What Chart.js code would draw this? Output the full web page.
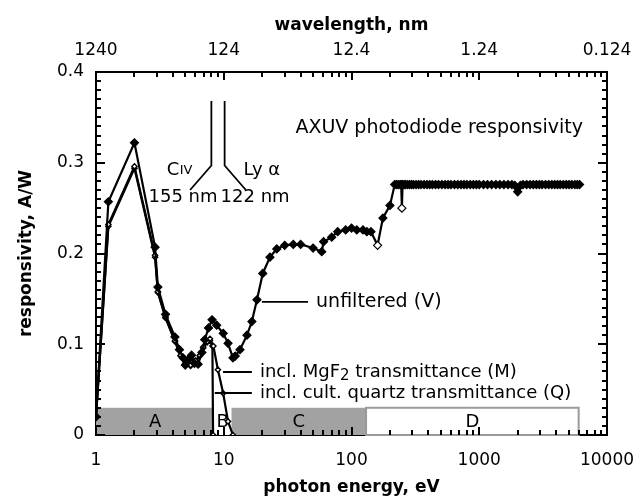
<!DOCTYPE html>
<html lang="en">
<head>
<meta charset="UTF-8">
<title>AXUV photodiode responsivity</title>
<script src="https://cdn.jsdelivr.net/npm/chart.js"></script>
<style>
  body { margin: 0; background: #fff; }
</style>
</head>
<body>
<canvas id="chart" width="633" height="498"></canvas>
<script>
// photon energy (eV) and responsivity (A/W)
const energyV = [1.0, 1.25, 2.0, 2.9, 3.05, 3.5, 4.15, 4.5, 4.8, 5.0, 5.3, 5.6, 5.9, 6.3, 6.75, 7.1, 7.6, 8.1, 8.8, 9.9,
  10.8, 11.8, 12.3, 13.4, 15.2, 16.6, 18.2, 20.2, 23.0, 26.0, 30.0, 35.0, 40.0, 50.0, 58.5, 60.5, 70.0, 78.0, 90.0, 100,
  110, 123, 132, 142, 160, 176, 200, 218, 225, 232, 240, 245, 248, 251, 258, 265, 275, 285, 295, 305,
  320, 335, 350, 370, 390, 410, 430, 455, 480, 510, 540, 570, 600, 640, 680, 720, 760, 800, 850, 900,
  950, 1000, 1080, 1160, 1250, 1350, 1450, 1560, 1680, 1800, 1900, 2000, 2100, 2200, 2350, 2500, 2650, 2800, 2950, 3100,
  3300, 3500, 3700, 3900, 4100, 4300, 4550, 4800, 5050, 5300, 5600, 5850, 6100];
const respV = [0.020, 0.257, 0.322, 0.207, 0.163, 0.133, 0.108, 0.094, 0.085, 0.077, 0.083, 0.088, 0.079, 0.078, 0.091, 0.105, 0.118, 0.127, 0.121, 0.112,
  0.101, 0.085, 0.087, 0.094, 0.110, 0.125, 0.149, 0.178, 0.196, 0.205, 0.209, 0.210, 0.210, 0.206, 0.202, 0.213, 0.218, 0.224, 0.226, 0.228,
  0.226, 0.226, 0.224, 0.224, 0.209, 0.239, 0.253, 0.276, 0.276, 0.276, 0.276, 0.276, 0.250, 0.276, 0.276, 0.276, 0.276, 0.276, 0.276, 0.276,
  0.276, 0.276, 0.276, 0.276, 0.276, 0.276, 0.276, 0.276, 0.276, 0.276, 0.276, 0.276, 0.276, 0.276, 0.276, 0.276, 0.276, 0.276, 0.276, 0.276,
  0.276, 0.276, 0.276, 0.276, 0.276, 0.276, 0.276, 0.276, 0.276, 0.276, 0.275, 0.268, 0.275, 0.276, 0.276, 0.276, 0.276, 0.276, 0.276, 0.276,
  0.276, 0.276, 0.276, 0.276, 0.276, 0.276, 0.276, 0.276, 0.276, 0.276, 0.276, 0.276, 0.276];
const openPointsV = [160, 248];

const energyM = [1.0, 1.25, 2.0, 2.9, 3.05, 3.5, 4.15, 4.6, 5.0, 5.5, 6.0, 6.5, 6.9, 7.4, 7.8, 8.3, 9.0, 9.9, 10.8, 11.8];
const respM = [0.020, 0.232, 0.296, 0.198, 0.158, 0.130, 0.104, 0.088, 0.079, 0.077, 0.082, 0.088, 0.097, 0.103, 0.106, 0.098, 0.072, 0.046, 0.015, 0.0];

const energyQ = [1.0, 1.25, 2.0, 2.9, 3.05, 3.5, 4.15, 4.6, 5.0, 5.5, 6.0, 6.5, 6.9, 7.4, 7.8, 8.15, 8.25];
const respQ = [0.020, 0.230, 0.294, 0.196, 0.157, 0.129, 0.103, 0.087, 0.078, 0.076, 0.081, 0.087, 0.096, 0.102, 0.104, 0.098, 0.0];

const energyTicks = [1, 10, 100, 1000, 10000];
const wavelengthTicks = ['1240', '124', '12.4', '1.24', '0.124'];
const respTicks = [0, 0.1, 0.2, 0.3, 0.4];

// spectral ranges A-D along the bottom
const bandEdges = [1, 8.4, 11.5, 130, 6000];
const bandNames = ['A', 'B', 'C', 'D'];
const bandHeight = 0.03;

const FONT = "'DejaVu Sans', sans-serif";
const tickFont = { family: FONT, size: 17 };
const titleFont = { family: FONT, size: 17, weight: 'bold', lineHeight: 1 };

function toPoints(xs, ys) {
  return xs.map((x, i) => ({ x: x, y: ys[i] }));
}

function drawText(ctx, x, y, str, size, align) {
  ctx.font = size + 'px ' + FONT;
  ctx.textAlign = align || 'left';
  ctx.textBaseline = 'middle';
  ctx.fillText(str, x, y);
}

// keep the frame where the reference has it, labels may overhang
function noPad(s) {
  s.paddingLeft = 0;
  s.paddingRight = 0;
}

const decorations = {
  id: 'decorations',
  beforeDatasetsDraw(chart) {
    const { ctx, scales: { x, y } } = chart;
    const fills = ['#a2a2a2', '#ffffff', '#a2a2a2', '#ffffff'];
    const y0 = y.getPixelForValue(0);
    const y1 = y.getPixelForValue(bandHeight);
    ctx.save();
    for (let i = 0; i < bandNames.length; i++) {
      const x0 = x.getPixelForValue(bandEdges[i]);
      const x1 = x.getPixelForValue(bandEdges[i + 1]);
      ctx.fillStyle = fills[i];
      ctx.fillRect(x0, y1, x1 - x0, y0 - y1);
      if (i === 3) {
        ctx.strokeStyle = '#9a9a9a';
        ctx.lineWidth = 2;
        ctx.strokeRect(x0, y1, x1 - x0, y0 - y1);
      }
      ctx.fillStyle = '#000';
      const xm = x.getPixelForValue(Math.sqrt(bandEdges[i] * bandEdges[i + 1]));
      drawText(ctx, xm, (y0 + y1) / 2 + 1, bandNames[i], 18, 'center');
    }
    ctx.restore();
  },
  afterDraw(chart) {
    const { ctx, chartArea: a, scales: { x, y } } = chart;
    ctx.save();
    ctx.strokeStyle = '#000';
    ctx.fillStyle = '#000';
    ctx.lineWidth = 2;

    // inward tick marks on all four sides
    ctx.beginPath();
    for (let d = 1; d < 10000; d *= 10) {
      for (let m = 1; m <= 9; m++) {
        const px = Math.round(x.getPixelForValue(d * m));
        const len = m === 1 ? 8 : 5;
        ctx.moveTo(px, a.bottom); ctx.lineTo(px, a.bottom - len);
        ctx.moveTo(px, a.top); ctx.lineTo(px, a.top + len);
      }
    }
    for (let i = 0; i <= 40; i++) {
      const py = Math.round(y.getPixelForValue(i / 100));
      const len = i % 10 === 0 ? 9 : 5;
      ctx.moveTo(a.left, py); ctx.lineTo(a.left + len, py);
      ctx.moveTo(a.right, py); ctx.lineTo(a.right - len, py);
    }
    ctx.stroke();

    // C IV and Ly alpha markers
    ctx.lineWidth = 1.8;
    ctx.beginPath();
    const civ = x.getPixelForValue(8.0), lya = x.getPixelForValue(10.16);
    const yTop = y.getPixelForValue(0.368), yKnee = y.getPixelForValue(0.297), yEnd = y.getPixelForValue(0.27);
    ctx.moveTo(civ, yTop); ctx.lineTo(civ, yKnee); ctx.lineTo(x.getPixelForValue(5.45), yEnd);
    ctx.moveTo(lya, yTop); ctx.lineTo(lya, yKnee); ctx.lineTo(x.getPixelForValue(14.9), yEnd);
    ctx.stroke();

    const yRow1 = y.getPixelForValue(0.292), yRow2 = y.getPixelForValue(0.262);
    const cx = x.getPixelForValue(4.6);
    drawText(ctx, cx - 14, yRow1, 'C', 18, 'left');
    drawText(ctx, cx - 1, yRow1 + 1, 'IV', 13, 'left');
    drawText(ctx, x.getPixelForValue(4.8), yRow2, '155 nm', 18, 'center');
    drawText(ctx, x.getPixelForValue(19.9), yRow1, 'Ly \u03b1', 18, 'center');
    drawText(ctx, x.getPixelForValue(17.6), yRow2, '122 nm', 18, 'center');

    drawText(ctx, x.getPixelForValue(6490), y.getPixelForValue(0.338), 'AXUV photodiode responsivity', 19, 'right');

    // curve labels with leader lines
    ctx.lineWidth = 1.8;
    ctx.beginPath();
    const yV = y.getPixelForValue(0.1466), yM = y.getPixelForValue(0.0694), yQ = y.getPixelForValue(0.0463);
    ctx.moveTo(x.getPixelForValue(19.9), yV); ctx.lineTo(x.getPixelForValue(45.7), yV);
    ctx.moveTo(x.getPixelForValue(9.87), yM); ctx.lineTo(x.getPixelForValue(16.6), yM);
    ctx.moveTo(x.getPixelForValue(8.5), yQ); ctx.lineTo(x.getPixelForValue(16.6), yQ);
    ctx.stroke();

    drawText(ctx, x.getPixelForValue(52.8), yV, 'unfiltered (V)', 19, 'left');
    const tx = x.getPixelForValue(19.2);
    const pre = 'incl. MgF';
    drawText(ctx, tx, yM, pre, 18, 'left');
    const w1 = ctx.measureText(pre).width;
    drawText(ctx, tx + w1, yM + 4, '2', 15, 'left');
    const w2 = ctx.measureText('2').width;
    drawText(ctx, tx + w1 + w2, yM, ' transmittance (M)', 18, 'left');
    drawText(ctx, tx, yQ, 'incl. cult. quartz transmittance (Q)', 18, 'left');
    ctx.restore();
  }
};

const ctx = document.getElementById('chart').getContext('2d');

new Chart(ctx, {
  type: 'scatter',
  data: {
    datasets: [
      {
        label: 'unfiltered (V)',
        data: toPoints(energyV, respV),
        showLine: true,
        borderColor: '#000',
        borderWidth: 2.2,
        pointStyle: 'rectRot',
        pointRadius: 4,
        pointBorderWidth: 1.2,
        pointBorderColor: '#000',
        pointBackgroundColor: c => (c.raw && openPointsV.includes(c.raw.x)) ? '#fff' : '#000'
      },
      {
        label: 'incl. MgF2 transmittance (M)',
        data: toPoints(energyM, respM),
        showLine: true,
        borderColor: '#000',
        borderWidth: 2.2,
        pointStyle: 'rectRot',
        pointRadius: 2.6,
        pointBorderWidth: 1.4,
        pointBorderColor: '#000',
        pointBackgroundColor: '#fff'
      },
      {
        label: 'incl. cult. quartz transmittance (Q)',
        data: toPoints(energyQ, respQ),
        showLine: true,
        borderColor: '#000',
        borderWidth: 2.2,
        pointStyle: 'rectRot',
        pointRadius: 2.6,
        pointBorderWidth: 1.4,
        pointBorderColor: '#000',
        pointBackgroundColor: '#fff'
      }
    ]
  },
  options: {
    responsive: false,
    animation: false,
    devicePixelRatio: 1,
    layout: { padding: 0 },
    plugins: { legend: { display: false }, tooltip: { enabled: false } },
    scales: {
      x: {
        type: 'logarithmic',
        position: 'bottom',
        min: 1,
        max: 10000,
        afterBuildTicks: s => { s.ticks = energyTicks.map(v => ({ value: v })); },
        afterFit: s => { s.height = 63; noPad(s); },
        grid: { display: false },
        border: { color: '#000', width: 2 },
        ticks: { color: '#000', font: tickFont, padding: 7, maxRotation: 0, autoSkip: false, callback: v => String(v) },
        title: { display: true, text: 'photon energy, eV', color: '#000', font: titleFont, padding: { top: 0, bottom: 2 } }
      },
      x2: {
        type: 'logarithmic',
        axis: 'x',
        position: 'top',
        min: 1,
        max: 10000,
        afterBuildTicks: s => { s.ticks = energyTicks.map(v => ({ value: v })); },
        afterFit: s => { s.height = 72; noPad(s); },
        grid: { display: false },
        border: { color: '#000', width: 2 },
        ticks: { color: '#000', font: tickFont, padding: 3, maxRotation: 0, autoSkip: false, callback: (v, i) => wavelengthTicks[i] },
        title: { display: true, text: 'wavelength, nm', color: '#000', font: titleFont, padding: { top: 17, bottom: 0 } }
      },
      y: {
        position: 'left',
        min: 0,
        max: 0.4,
        afterBuildTicks: s => { s.ticks = respTicks.map(v => ({ value: v })); },
        afterFit: s => { s.width = 96; },
        grid: { display: false },
        border: { color: '#000', width: 2 },
        ticks: { color: '#000', font: tickFont, padding: 4, callback: v => String(v) },
        title: { display: true, text: 'responsivity, A/W', color: '#000', font: titleFont, padding: { top: 18, bottom: 0 } }
      },
      y2: {
        axis: 'y',
        position: 'right',
        min: 0,
        max: 0.4,
        afterFit: s => { s.width = 26; },
        grid: { display: false },
        border: { color: '#000', width: 2 },
        ticks: { display: false }
      }
    }
  },
  plugins: [decorations]
});
</script>
</body>
</html>
